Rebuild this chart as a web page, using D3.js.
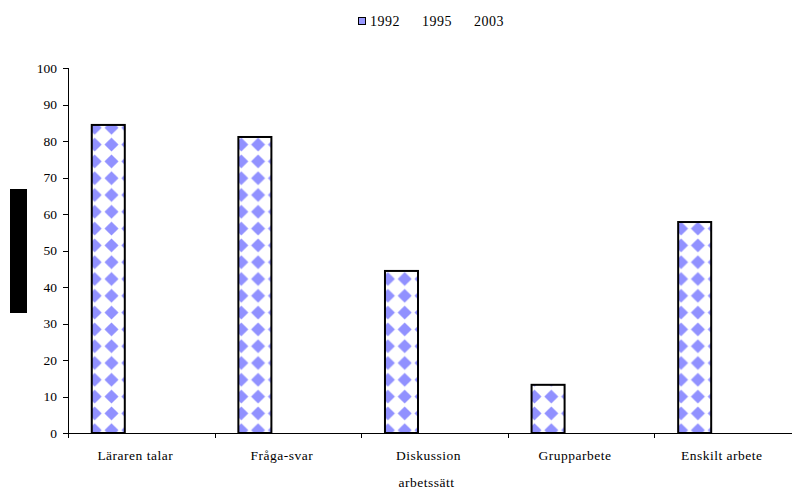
<!DOCTYPE html>
<html>
<head>
<meta charset="utf-8">
<script src="https://cdn.jsdelivr.net/npm/d3@7"></script>
<style>
  body { margin: 0; background: #fff; }
  svg { display: block; font-family: "Liberation Serif", "Times New Roman", serif; }
  .axis path, .axis line { stroke: #000; shape-rendering: crispEdges; }
  .axis text { font-size: 13.5px; fill: #000; font-family: "Liberation Serif", serif; }
  .lbl, .ttl, .leg { letter-spacing: 0.5px; }
</style>
</head>
<body>
<svg width="792" height="490"></svg>
<script>
// chart data
var categories = ["Läraren talar", "Fråga-svar", "Diskussion", "Grupparbete", "Enskilt arbete"];
var series = ["1992", "1995", "2003"];
var values1992 = [84.4, 81.1, 44.4, 13.2, 57.8];
var values1995 = [null, null, null, null, null];
var values2003 = [null, null, null, null, null];
var yTicks = [0, 10, 20, 30, 40, 50, 60, 70, 80, 90, 100];
var xTitle = "arbetssätt";

var svg = d3.select("svg"),
    margin = {top: 68, right: -9, bottom: 57, left: 68},
    width = +svg.attr("width") - margin.left - margin.right,
    height = +svg.attr("height") - margin.top - margin.bottom;

// diamond pattern like the excel fill
var defs = svg.append("defs");
var pat = defs.append("pattern")
    .attr("id", "diamonds")
    .attr("patternUnits", "userSpaceOnUse")
    .attr("width", 16.8)
    .attr("height", 16.8)
    .attr("x", 1.5)
    .attr("y", 1);
pat.append("rect").attr("width", 16.8).attr("height", 16.8).attr("fill", "#fff");
pat.append("path")
    .attr("d", "M8.4,1.4 L15.4,8.4 L8.4,15.4 L1.4,8.4 Z")
    .attr("fill", "#9191ff");

var x0 = d3.scaleBand().domain(categories).range([0, width]).paddingInner(0).paddingOuter(0);
var x1 = d3.scaleBand().domain(series).range([0, x0.bandwidth()]).paddingInner(0).paddingOuter(0.72);
var y = d3.scaleLinear().domain([0, 100]).range([height, 0]);

var g = svg.append("g")
    .attr("transform", "translate(" + margin.left + "," + margin.top + ")");

// bars
var rows = categories.map(function(c, i) {
  return {cat: c, vals: [
    {s: "1992", v: values1992[i]},
    {s: "1995", v: values1995[i]},
    {s: "2003", v: values2003[i]}
  ]};
});

g.selectAll(".grp")
  .data(rows)
  .enter().append("g")
    .attr("class", "grp")
    .attr("transform", function(d) { return "translate(" + x0(d.cat) + ",0)"; })
  .selectAll("rect")
  .data(function(d) { return d.vals.filter(function(e) { return e.v != null; }); })
  .enter().append("rect")
    .attr("x", function(d) { return x1(d.s); })
    .attr("y", function(d) { return y(d.v); })
    .attr("width", x1.bandwidth())
    .attr("height", function(d) { return height - y(d.v); })
    .attr("fill", "url(#diamonds)")
    .attr("stroke", "#000")
    .attr("stroke-width", 2);

// y axis
g.append("g")
    .attr("class", "axis axis--y")
    .call(d3.axisLeft(y).tickValues(yTicks).tickSizeOuter(0).tickSize(5).tickPadding(6));

// x axis with ticks on the category boundaries
var xAxis = g.append("g")
    .attr("class", "axis axis--x")
    .attr("transform", "translate(0," + height + ")");
xAxis.append("line")
    .attr("x1", 0).attr("x2", width)
    .attr("y1", 0.5).attr("y2", 0.5);
xAxis.selectAll(".tk")
  .data(categories)
  .enter().append("line")
    .attr("class", "tk")
    .attr("x1", function(d) { return Math.round(x0(d)) + 0.5; })
    .attr("x2", function(d) { return Math.round(x0(d)) + 0.5; })
    .attr("y1", 0).attr("y2", 5);
xAxis.selectAll(".lbl")
  .data(categories)
  .enter().append("text")
    .attr("class", "lbl")
    .attr("x", function(d) { return x0(d) + x0.bandwidth() / 2 - 6; })
    .attr("y", 27)
    .attr("text-anchor", "middle")
    .text(function(d) { return d; });

// x axis title
g.append("text")
    .attr("class", "ttl")
    .attr("x", width / 2 - 8)
    .attr("y", height + 54)
    .attr("text-anchor", "middle")
    .style("font-size", "13.5px")
    .text(xTitle);

// hidden y title block (rendered as black box in the source)
svg.append("rect")
    .attr("x", 10).attr("y", 189)
    .attr("width", 17).attr("height", 124)
    .attr("fill", "#000");

// legend
var legend = svg.append("g").attr("transform", "translate(358,14)");
var li = legend.selectAll(".li")
  .data(series)
  .enter().append("g")
    .attr("class", "li")
    .attr("transform", function(d, i) { return "translate(" + (i * 52) + ",0)"; });
li.filter(function(d) { return d === "1992"; })
  .append("rect")
    .attr("x", 0.5).attr("y", 3.5)
    .attr("width", 7).attr("height", 7)
    .attr("fill", "#9999ff")
    .attr("stroke", "#000");
li.append("text")
    .attr("class", "leg")
    .attr("x", 12)
    .attr("y", 12)
    .style("font-size", "14px")
    .text(function(d) { return d; });
</script>
</body>
</html>
